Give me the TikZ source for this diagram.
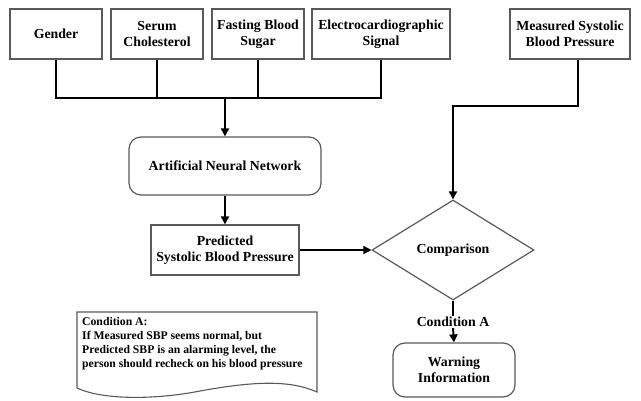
\documentclass[tikz,border=0pt]{standalone}
\usepackage{fontspec}
\setmainfont{Liberation Serif}
\usepackage{tikz}
\usetikzlibrary{positioning,arrows.meta,shapes.geometric}
\tikzset{
  inbox/.style={rectangle, draw=black!65, line width=1.2pt, minimum height=50pt, align=center,
                inner sep=2pt, font=\fontsize{13.8}{16}\selectfont\bfseries},
  roundbox/.style={inbox, rounded corners=12pt},
  decision/.style={diamond, draw=black!65, line width=1.2pt, aspect=1.62, inner sep=0pt,
                   minimum width=162pt, minimum height=100pt, font=\fontsize{13.8}{16}\selectfont\bfseries},
  wire/.style={line width=1.9pt},
  fwd/.style={wire, -{Triangle[length=8pt,width=8pt]}},
  notetext/.style={align=left, inner sep=0pt, font=\fontsize{11.7}{14}\selectfont\bfseries},
}

\begin{document}
\begin{tikzpicture}[x=1pt,y=-1pt]
  \useasboundingbox (0,0) rectangle (641,400);

  % inputs
  \node[inbox, minimum width=92pt] (gender) at (56,34) {Gender};
  \node[inbox, minimum width=92pt] (serum) at (157,34) {Serum\\Cholesterol};
  \node[inbox, minimum width=92pt] (sugar) at (258,34) {Fasting Blood\\Sugar};
  \node[inbox, minimum width=138pt] (ecg) at (381,34) {Electrocardiographic\\Signal};
  \node[inbox, minimum width=120pt] (msbp) at (570,34) {Measured Systolic\\Blood Pressure};

  % processing
  \node[roundbox, minimum width=192pt, minimum height=58pt] (ann) at (225,166) {Artificial Neural Network};
  \node[inbox, minimum width=148pt] (psbp) at (225,250) {Predicted\\Systolic Blood Pressure};
  \node[decision] (comp) at (453,250) {Comparison};
  \node[font=\fontsize{13.8}{16}\selectfont\bfseries, inner sep=1pt] (conda) at (453,322) {Condition A};
  \node[roundbox, minimum width=122pt, minimum height=54pt] (warn) at (454,370) {Warning\\Information};

  % note
  \node[notetext, anchor=north west] (cond) at (82,317)
    {Condition A:\\If Measured SBP seems normal, but\\Predicted SBP is an alarming level, the\\person should recheck on his blood pressure};
  \draw[draw=black!65, line width=1.1pt] (77,312) -- (317,312) -- (317,392)
    .. controls (290,380) and (255,381) .. (200,391)
    .. controls (160,399) and (105,401) .. (77,388) -- cycle;

  % bus
  \coordinate (bus) at (225,98);
  \draw[wire] (gender.south) |- (ecg.south |- bus) -- (ecg.south);
  \draw[wire] (serum.south) -- (serum.south |- bus);
  \draw[wire] (sugar.south) -- (sugar.south |- bus);
  \draw[fwd] (bus) -- (ann.north);
  \draw[fwd] (ann) -- (psbp);
  \draw[fwd] (psbp) -- (comp.west);

  \coordinate (mtap) at ([xshift=8pt]msbp.south);
  \draw[fwd] (mtap) -- ++(0,46) -| (comp.north);
  \draw[wire] (comp.south) -- (conda.north);
  \draw[fwd] (conda.south) -- (warn.north);
\end{tikzpicture}
\end{document}
